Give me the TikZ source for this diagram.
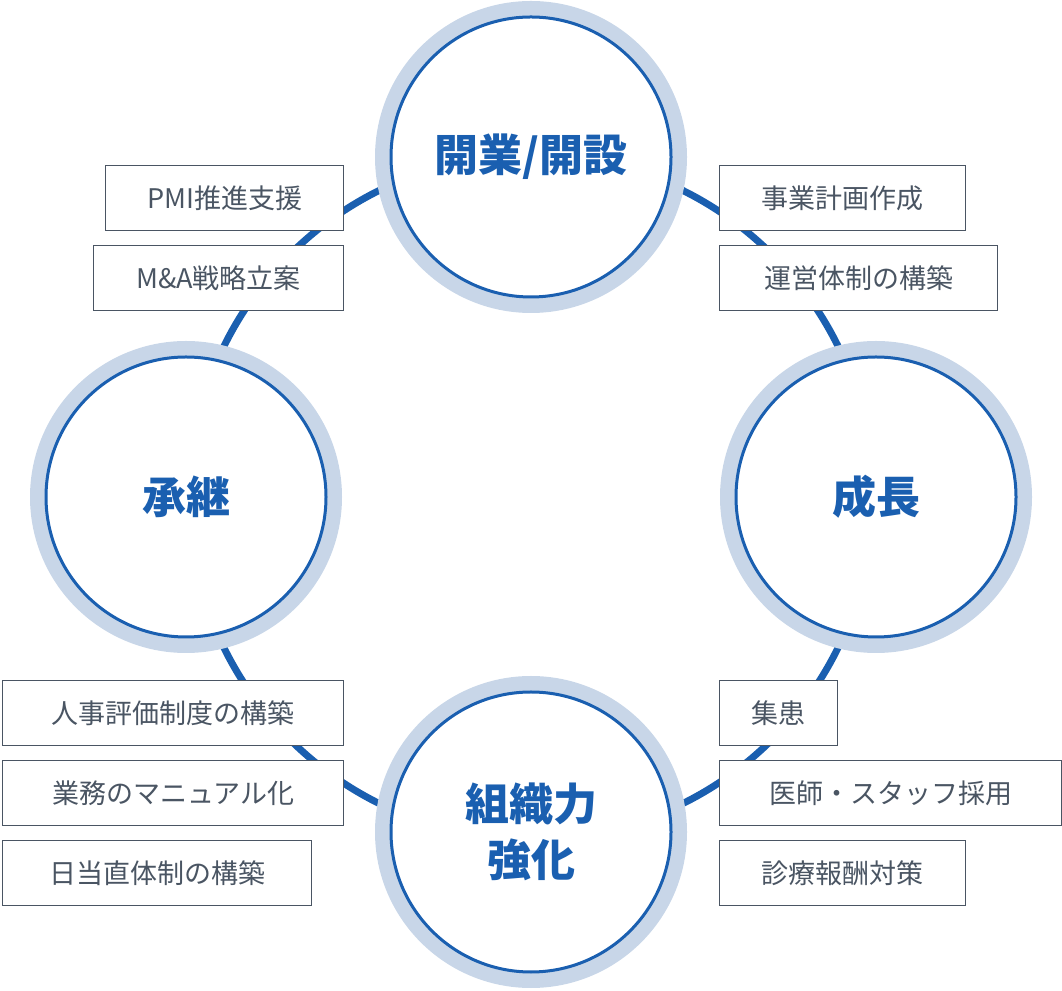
\documentclass[tikz,border=0pt]{standalone}
\usepackage{fontspec}
\setmainfont{Noto Sans CJK JP}
\definecolor{mblue}{HTML}{1A5FB0}
\definecolor{lring}{HTML}{C8D6E8}
\definecolor{tgray}{HTML}{4A5563}
\begin{document}
\begin{tikzpicture}[x=1pt,y=1pt,
  item/.style={draw=tgray,line width=1.2pt,fill=white,text=tgray,font=\fontsize{27}{27}\selectfont,anchor=north west,inner sep=0pt,align=center},
  halo/.style={circle,fill=lring,minimum size=312pt,inner sep=0pt},
  stage/.style={circle,draw=mblue,line width=3pt,fill=white,minimum size=280pt,inner sep=0pt,text=mblue,font=\fontsize{44}{56}\selectfont\bfseries,align=center}]
\useasboundingbox (0,0) rectangle (1062,990);
\coordinate (c) at (531,493);
\draw[mblue,line width=7pt] (c) circle (342);
\newcommand\itembox[5]{\node[item,minimum width=#3pt,minimum height=65pt] (#5) at (#1,#2) {#4};}
\itembox{105}{825}{238}{PMI推進支援}{b1}
\itembox{93}{745}{250}{M\&A戦略立案}{b2}
\itembox{719}{825}{246}{事業計画作成}{b3}
\itembox{719}{745}{278}{運営体制の構築}{b4}
\itembox{2}{310}{341}{人事評価制度の構築}{b5}
\itembox{2}{230}{341}{業務のマニュアル化}{b6}
\itembox{2}{150}{309}{日当直体制の構築}{b7}
\itembox{719}{310}{118}{集患}{b8}
\itembox{719}{230}{342}{医師・スタッフ採用}{b9}
\itembox{719}{150}{246}{診療報酬対策}{b10}
\node[halo] (h1) at (531,833) {};
\node[halo] (h2) at (186,493) {};
\node[halo] (h3) at (876,493) {};
\node[halo] (h4) at (531,158) {};
\node[stage] (s1) at (531,833) {開業/開設};
\node[stage] (s2) at (186,493) {承継};
\node[stage] (s3) at (876,493) {成長};
\node[stage] (s4) at (531,158) {組織力\\強化};
\end{tikzpicture}
\end{document}
